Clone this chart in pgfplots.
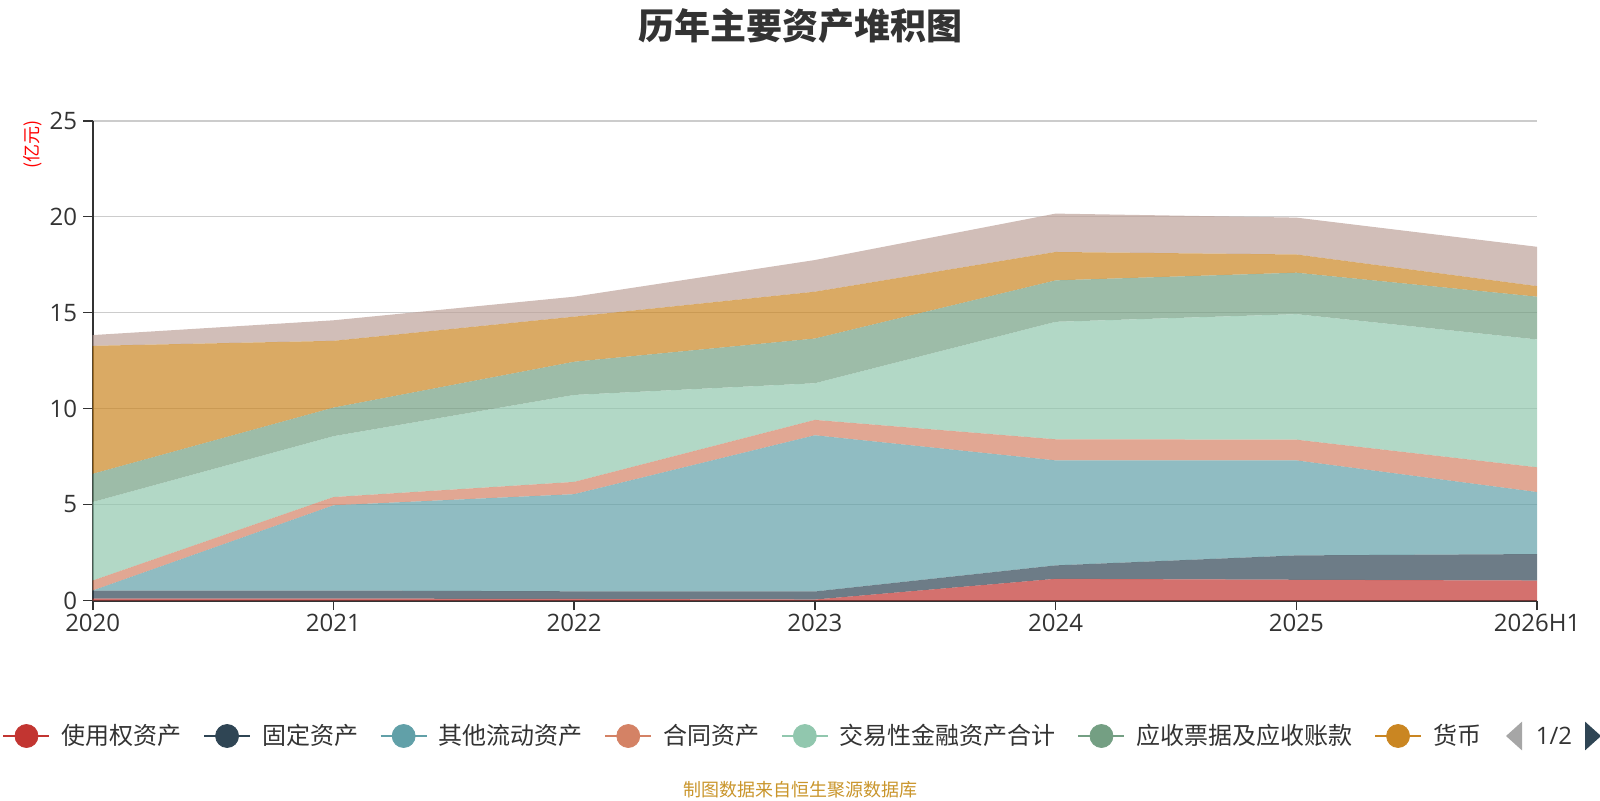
\documentclass[border=0pt]{standalone}
\usepackage{fontspec}
\setmainfont{Open Sans}
\newfontfamily\cjk{Noto Sans CJK SC}
\usepackage{pgfplots}
\usepackage{pgfplotstable}
\pgfplotsset{compat=1.18}
\definecolor{c1}{HTML}{C23531}
\definecolor{c2}{HTML}{2F4554}
\definecolor{c3}{HTML}{61A0A8}
\definecolor{c4}{HTML}{D48265}
\definecolor{c5}{HTML}{91C7AE}
\definecolor{c6}{HTML}{749F83}
\definecolor{c7}{HTML}{CA8622}
\definecolor{c8}{HTML}{BDA29A}
\definecolor{tgrey}{HTML}{333333}
\definecolor{ggrey}{HTML}{CCCCCC}
\definecolor{srcc}{HTML}{C9952B}

% increments of the stacked series
\pgfplotstableread{
x a b c d e f g h
0 0.10 0.42 0.00 0.52 4.09 1.47 6.67 0.56
1 0.10 0.42 4.44 0.43 3.17 1.49 3.48 1.07
2 0.08 0.40 5.06 0.64 4.53 1.73 2.35 1.04
3 0.05 0.42 8.14 0.80 1.91 2.33 2.44 1.65
4 1.13 0.70 5.47 1.10 6.12 2.16 1.48 2.00
5 1.08 1.27 4.95 1.08 6.54 2.16 0.95 1.92
6 1.04 1.38 3.23 1.29 6.66 2.23 0.55 2.05
}\data

\pgfplotsset{legline/.style={legend image code/.code={%
  \draw[line width=1pt] (0pt,0pt) -- (23pt,0pt);
  \fill (11.5pt,0pt) circle (5.75pt);}}}

\begin{document}
\begin{tikzpicture}
\useasboundingbox (0,0) rectangle (800pt,400pt);
\begin{axis}[
  at={(46.35pt,99.75pt)}, anchor=south west,
  scale only axis, width=722.2pt, height=239.9pt,
  xmin=0, xmax=6, ymin=0, ymax=25,
  stack plots=y,
  axis lines=left,
  axis line style={-, color=tgrey, line width=1pt},
  xtick={0,1,2,3,4,5,6},
  xticklabels={2020,2021,2022,2023,2024,2025,2026H1},
  ytick={0,5,10,15,20,25},
  tick align=outside,
  major tick length=4.8pt,
  tick style={color=tgrey, line width=0.8pt},
  ymajorgrids,
  major grid style={color=ggrey, line width=0.8pt},
  tick label style={font=\fontsize{12}{14}\selectfont, text=tgrey},
  xticklabel style={inner sep=2pt},
  yticklabel style={inner sep=2.8pt},
  /pgf/number format/assume math mode=true,
  clip=false,
  legend columns=7,
  legend cell align=left,
  legend style={at={(-0.0669,-0.2824)}, anchor=west, draw=none, fill=none,
    font=\cjk\fontsize{12}{14}\selectfont, text=tgrey,
    nodes={inner sep=0pt},
    /tikz/every even column/.append style={column sep=10.8pt},
    /tikz/every odd column/.append style={column sep=5.5pt}},
]
\addplot[draw=none, fill=c1, fill opacity=0.7, forget plot] table[x=x,y=a]{\data} \closedcycle;
\addplot[draw=none, fill=c2, fill opacity=0.7, forget plot] table[x=x,y=b]{\data} \closedcycle;
\addplot[draw=none, fill=c3, fill opacity=0.7, forget plot] table[x=x,y=c]{\data} \closedcycle;
\addplot[draw=none, fill=c4, fill opacity=0.7, forget plot] table[x=x,y=d]{\data} \closedcycle;
\addplot[draw=none, fill=c5, fill opacity=0.7, forget plot] table[x=x,y=e]{\data} \closedcycle;
\addplot[draw=none, fill=c6, fill opacity=0.7, forget plot] table[x=x,y=f]{\data} \closedcycle;
\addplot[draw=none, fill=c7, fill opacity=0.7, forget plot] table[x=x,y=g]{\data} \closedcycle;
\addplot[draw=none, fill=c8, fill opacity=0.7, forget plot] table[x=x,y=h]{\data} \closedcycle;
\addlegendimage{legline, color=c1}
\addlegendentry{使用权资产}
\addlegendimage{legline, color=c2}
\addlegendentry{固定资产}
\addlegendimage{legline, color=c3}
\addlegendentry{其他流动资产}
\addlegendimage{legline, color=c4}
\addlegendentry{合同资产}
\addlegendimage{legline, color=c5}
\addlegendentry{交易性金融资产合计}
\addlegendimage{legline, color=c6}
\addlegendentry{应收票据及应收账款}
\addlegendimage{legline, color=c7}
\addlegendentry{货币}
\end{axis}
\node[font=\cjk\bfseries\fontsize{18}{20}\selectfont, text=tgrey] at (400pt,387.2pt) {历年主要资产堆积图};
\node[font=\cjk\fontsize{9}{10}\selectfont, text=red, rotate=90] at (16.5pt,328pt) {(亿元)};
\node[font=\cjk\fontsize{9}{10}\selectfont, text=srcc] at (400pt,5pt) {制图数据来自恒生聚源数据库};
% legend pager
\fill[color=gray!70] (753pt,32pt) -- (761pt,39.2pt) -- (761pt,24.8pt) -- cycle;
\node[font=\fontsize{12}{14}\selectfont, text=tgrey] at (777pt,32pt) {1/2};
\fill[color=c2] (800.5pt,32pt) -- (792.5pt,39.2pt) -- (792.5pt,24.8pt) -- cycle;
\end{tikzpicture}
\end{document}
